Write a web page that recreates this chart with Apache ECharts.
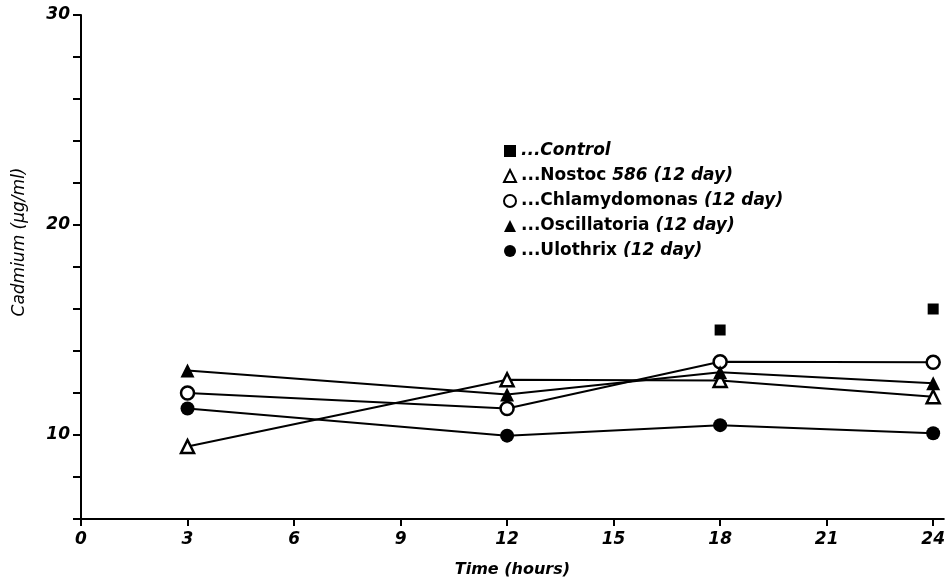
<!DOCTYPE html>
<html>
<head>
<meta charset="utf-8">
<script src="https://cdn.jsdelivr.net/npm/echarts@6/dist/echarts.min.js"></script>
<style>html,body{margin:0;padding:0;background:#fff}#c{width:948px;height:583px}</style>
</head>
<body>
<div id="c"></div>
<script>
const hours = [3, 12, 18, 24];
const xTicks = [0, 3, 6, 9, 12, 15, 18, 21, 24];
const yLabels = [10, 20, 30];
const control = [null, null, 15.0, 16.0];
const nostoc = [9.45, 12.63, 12.6, 11.82];
const chlamydomonas = [12.0, 11.26, 13.49, 13.46];
const oscillatoria = [13.07, 11.93, 12.99, 12.46];
const ulothrix = [11.26, 9.97, 10.47, 10.08];

const FONT = 'DejaVu Sans';
const pairs = arr => hours.map((h, i) => [h, arr[i]]).filter(p => p[1] !== null);

const chart = echarts.init(document.getElementById('c'), null, {renderer: 'canvas'});
const lineBase = {
  type: 'line',
  lineStyle: {color: '#000', width: 2},
  z: 3
};
const txt = {fontFamily: FONT, fontStyle: 'italic', fontWeight: 'bold', fontSize: 17, color: '#000'};
const LF = 17;
chart.setOption({
  animation: false,
  backgroundColor: '#fff',
  grid: {left: 81, right: 1, top: 15, bottom: 58, containLabel: false},
  xAxis: {
    type: 'value', min: 0, max: 24.3, interval: 3,
    name: 'Time (hours)', nameLocation: 'middle', nameGap: 43,
    nameTextStyle: Object.assign({}, txt, {fontSize: 16}),
    axisLine: {lineStyle: {color: '#000', width: 2}},
    axisTick: {show: true, length: 7, lineStyle: {color: '#000', width: 2}, customValues: xTicks},
    axisLabel: Object.assign({customValues: xTicks, margin: 12}, txt),
    splitLine: {show: false}
  },
  yAxis: {
    type: 'value', min: 6, max: 30, interval: 2,
    name: 'Cadmium (µg/ml)', nameLocation: 'middle', nameGap: 53, nameRotate: 90,
    nameTextStyle: Object.assign({}, txt, {fontWeight: 'normal', padding: [0, 0, 0, 50]}),
    axisLine: {lineStyle: {color: '#000', width: 2}},
    axisTick: {show: true, length: 8, lineStyle: {color: '#000', width: 2}},
    axisLabel: Object.assign({
      margin: 11,
      formatter: v => yLabels.indexOf(v) >= 0 ? String(v) : ''
    }, txt),
    splitLine: {show: false}
  },
  legend: {
    orient: 'vertical', left: 498, top: 137, itemWidth: 12, itemHeight: 12, itemGap: 7,
    textStyle: {
      fontFamily: FONT, fontSize: LF, fontWeight: 'bold', color: '#000', lineHeight: 18,
      rich: {
        n: {fontFamily: FONT, fontSize: LF, fontWeight: 'bold', color: '#000', fontStyle: 'normal', lineHeight: 18},
        i: {fontFamily: FONT, fontSize: LF, fontWeight: 'bold', color: '#000', fontStyle: 'italic', lineHeight: 18}
      }
    },
    formatter: function (name) {
      const map = {
        'Control': '{i|...Control}',
        'Nostoc 586': '{n|...Nostoc }{i|586 (12 day)}',
        'Chlamydomonas': '{n|...Chlamydomonas }{i|(12 day)}',
        'Oscillatoria': '{n|...Oscillatoria }{i|(12 day)}',
        'Ulothrix': '{n|...Ulothrix }{i|(12 day)}'
      };
      return map[name];
    },
    data: [
      {name: 'Control', icon: 'rect'},
      {name: 'Nostoc 586', icon: 'triangle'},
      {name: 'Chlamydomonas', icon: 'circle'},
      {name: 'Oscillatoria', icon: 'triangle'},
      {name: 'Ulothrix', icon: 'circle'}
    ]
  },
  series: [
    {
      name: 'Control', type: 'scatter', data: pairs(control), symbol: 'rect', symbolSize: 11,
      itemStyle: {color: '#000', opacity: 1}, z: 4
    },
    Object.assign({}, lineBase, {
      name: 'Nostoc 586', data: pairs(nostoc), symbol: 'triangle', symbolSize: 13,
      itemStyle: {color: '#fff', borderColor: '#000', borderWidth: 2.5}
    }),
    Object.assign({}, lineBase, {
      name: 'Chlamydomonas', data: pairs(chlamydomonas), symbol: 'circle', symbolSize: 13,
      itemStyle: {color: '#fff', borderColor: '#000', borderWidth: 2.5}
    }),
    Object.assign({}, lineBase, {
      name: 'Oscillatoria', data: pairs(oscillatoria), symbol: 'triangle', symbolSize: 14,
      itemStyle: {color: '#000', borderColor: '#000', borderWidth: 0}
    }),
    Object.assign({}, lineBase, {
      name: 'Ulothrix', data: pairs(ulothrix), symbol: 'circle', symbolSize: 14,
      itemStyle: {color: '#000', borderColor: '#000', borderWidth: 0}
    })
  ]
});
</script>
</body>
</html>
